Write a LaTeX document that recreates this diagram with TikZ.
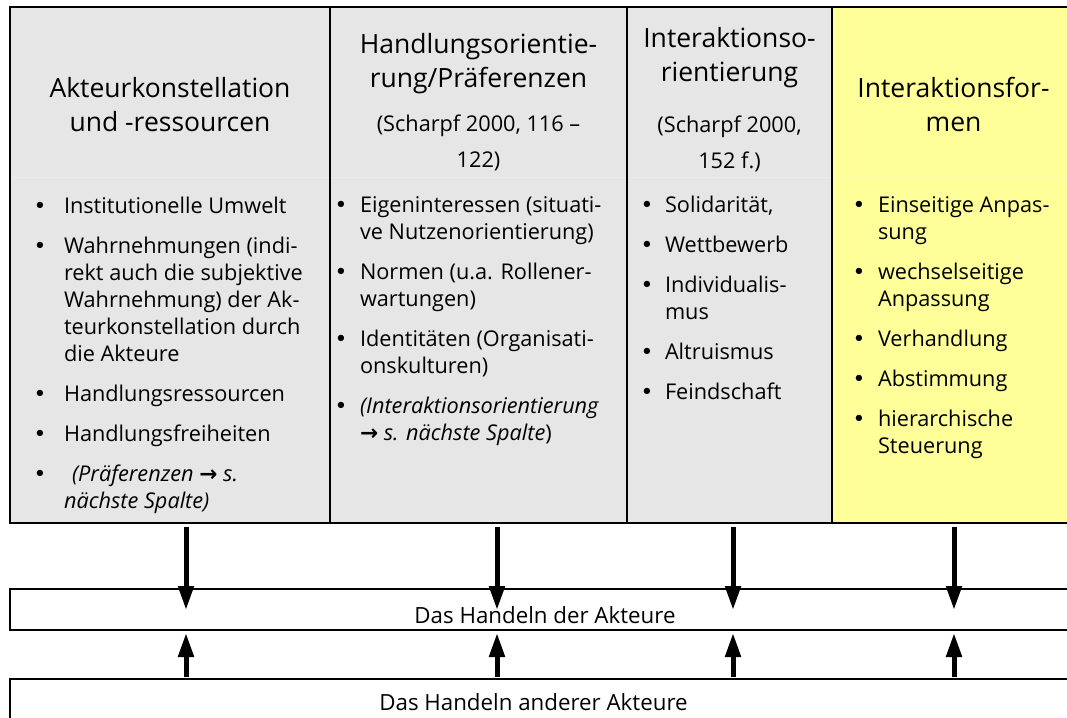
\documentclass[tikz,border=0pt]{standalone}
\usepackage{fontspec}
\setmainfont{Open Sans}
\newfontfamily\arrfont{DejaVu Sans}
\usetikzlibrary{arrows.meta}
\definecolor{cellgray}{RGB}{230,230,230}
\definecolor{cellyellow}{RGB}{255,255,153}
\newcommand\bodyfont{\fontsize{21.7}{27}\selectfont}
\newcommand\subfont{\fontsize{21.7}{36}\selectfont}
\newcommand\headfont{\fontsize{26.5}{34}\selectfont}
\newcommand\botfont{\fontsize{22.3}{27}\selectfont}
\newcommand\bt[2]{\hbox{\llap{\makebox[#1][c]{\arrfont\upshape •}}#2}}
\newcommand\ct[1]{\hbox{#1}}
\newcommand\ig{\vskip13pt}
\newcommand\harr{{\arrfont\upshape\bfseries →}}
\newcommand\clines[1]{\vtop{\halign{\hfil##\hfil\cr#1\crcr}}}
\begin{document}
\begin{tikzpicture}[x=1pt,y=-1pt,
  txt/.style={inner sep=0pt, outer sep=0pt},
  cell/.style={draw=black, line width=2pt, outer sep=0pt, inner sep=0pt, anchor=north west},
  arr/.style={line width=5pt, -{Triangle[width=15pt,length=24pt]}}]
\useasboundingbox (0,0) rectangle (1067,717);

% table columns
\node[cell, fill=cellgray, minimum width=320pt, minimum height=516pt] (c1) at (10,7) {};
\node[cell, fill=cellgray, minimum width=297pt, minimum height=516pt] (c2) at (330,7) {};
\node[cell, fill=cellgray, minimum width=205pt, minimum height=516pt] (c3) at (627,7) {};
\node[cell, fill=cellyellow, minimum width=243pt, minimum height=516pt] (c4) at (832,7) {};
\draw[white, opacity=0.22, line width=1pt] (12,177) -- (329,177) (331,177) -- (626,177) (628,177) -- (831,177) (833,177) -- (1067,177);

% headings
\node[txt, anchor=base] (h1) at (170,97) {\headfont\clines{Akteurkonstellation\cr und -ressourcen}};
\node[txt, anchor=base] (h2) at (478.5,53) {\headfont\clines{Handlungsorientie-\cr rung/Präferenzen}};
\node[txt, anchor=base] (s2) at (478.5,131) {\subfont\clines{(Scharpf 2000, 116 –\cr 122)}};
\node[txt, anchor=base] (h3) at (729.5,48) {\headfont\clines{Interaktionso-\cr rientierung}};
\node[txt, anchor=base] (s3) at (729.5,132) {\subfont\clines{(Scharpf 2000,\cr 152 f.)}};
\node[txt, anchor=base] (h4) at (953.5,97) {\headfont\clines{Interaktionsfor-\cr men}};

% bodies
\node[txt, anchor=base west] (b1) at (64,213) {\bodyfont\vtop{\baselineskip=27pt
  \bt{48pt}{Institutionelle Umwelt}\ig
  \bt{48pt}{Wahrnehmungen (indi-}
  \ct{rekt auch die subjektive}
  \ct{Wahrnehmung) der Ak-}
  \ct{teurkonstellation durch}
  \ct{die Akteure}\ig
  \bt{48pt}{Handlungsressourcen}\ig
  \bt{48pt}{Handlungsfreiheiten}\ig
  \bt{48pt}{\itshape\hspace*{8pt}(Präferenzen \harr{} s.}
  \ct{\itshape nächste Spalte)}}};
\node[txt, anchor=base west] (b2) at (360,212) {\bodyfont\vtop{\baselineskip=27pt
  \bt{38pt}{Eigeninteressen (situati-}
  \ct{ve Nutzenorientierung)}\ig
  \bt{38pt}{Normen (u.a. Rollener-}
  \ct{wartungen)}\ig
  \bt{38pt}{Identitäten (Organisati-}
  \ct{onskulturen)}\ig
  \bt{38pt}{\itshape (Interaktionsorientierung}
  \ct{{\itshape\harr{} s. nächste Spalte})}}};
\node[txt, anchor=base west] (b3) at (665,212) {\bodyfont\vtop{\baselineskip=27pt
  \bt{36pt}{Solidarität,}\ig
  \bt{36pt}{Wettbewerb}\ig
  \bt{36pt}{Individualis-}
  \ct{mus}\ig
  \bt{36pt}{Altruismus}\ig
  \bt{36pt}{Feindschaft}}};
\node[txt, anchor=base west] (b4) at (878,212) {\bodyfont\vtop{\baselineskip=27pt
  \bt{38pt}{Einseitige Anpas-}
  \ct{sung}\ig
  \bt{38pt}{wechselseitige}
  \ct{Anpassung}\ig
  \bt{38pt}{Verhandlung}\ig
  \bt{38pt}{Abstimmung}\ig
  \bt{38pt}{hierarchische}
  \ct{Steuerung}}};

% bottom boxes
\node[cell, fill=white, minimum width=1065pt, minimum height=41pt] (act) at (10,589) {};
\node[cell, fill=white, minimum width=1065pt, minimum height=60pt] (oth) at (10,679) {};
\node[txt, anchor=base] (actt) at (545,623) {\botfont Das Handeln der Akteure};
\node[txt, anchor=base] (otht) at (533.5,710) {\botfont Das Handeln anderer Akteure};

% arrows
\foreach \i/\x in {1/186,2/497,3/733,4/954}{
  \coordinate (ds\i) at (\x,527);
  \coordinate (de\i) at (\x,610);
  \coordinate (us\i) at (\x,677);
  \coordinate (ue\i) at (\x,633);
  \draw[arr] (ds\i) -- (de\i);
  \draw[arr] (us\i) -- (ue\i);
}
\end{tikzpicture}
\end{document}
